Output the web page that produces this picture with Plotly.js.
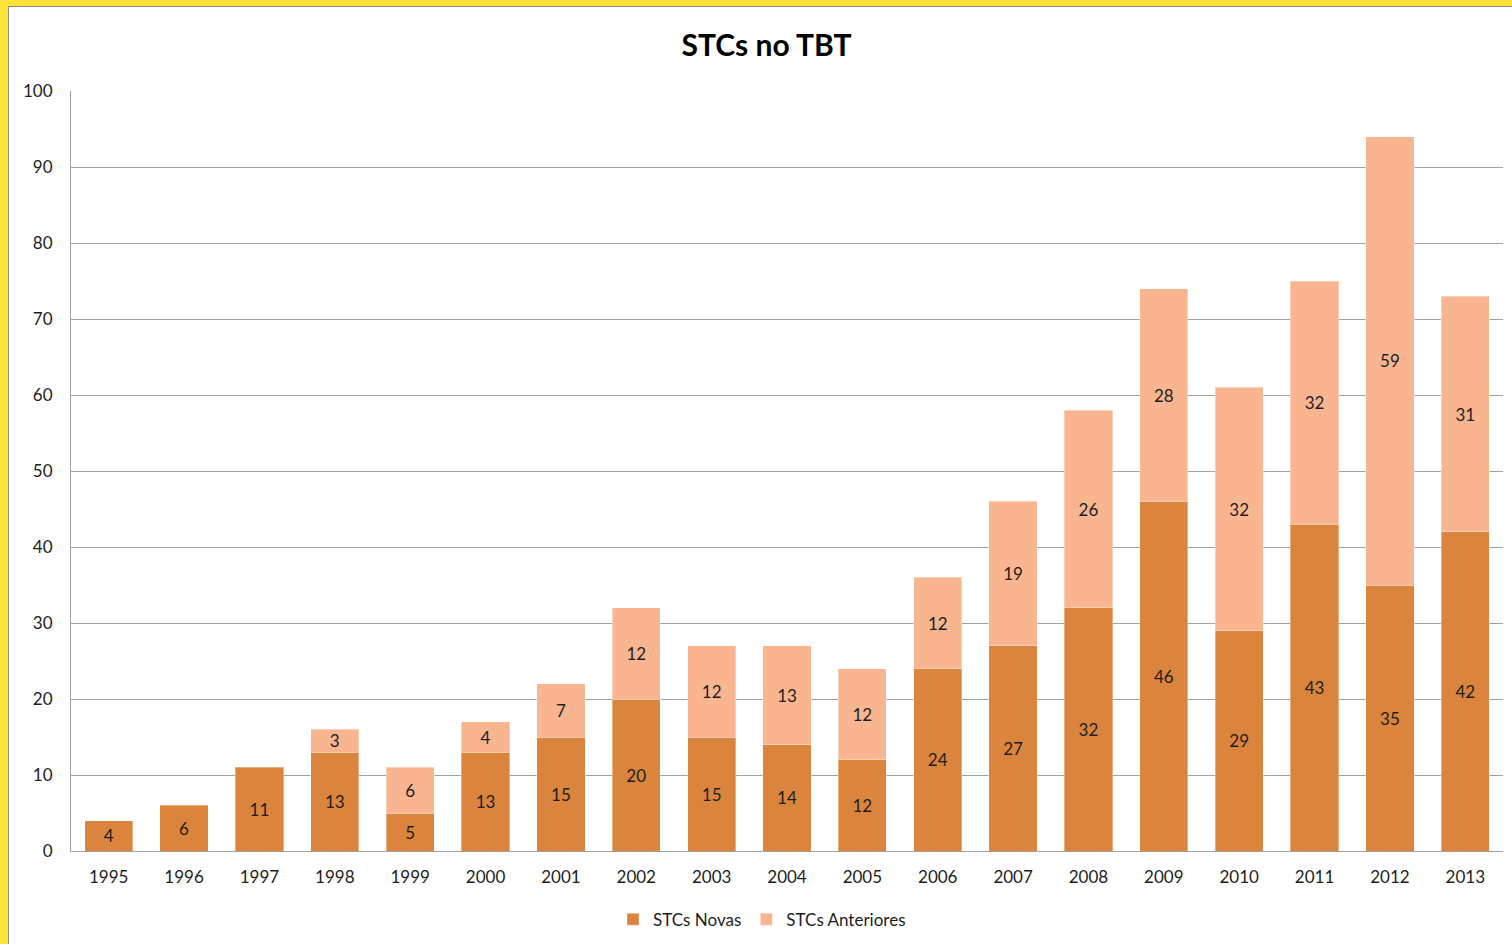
<!DOCTYPE html>
<html>
<head>
<meta charset="utf-8">
<script src="https://cdn.plot.ly/plotly-3.0.1.min.js"></script>
<style>
  html, body { margin: 0; padding: 0; background: #FDE23A; width: 1512px; height: 944px; overflow: hidden; }
  #chart { position: absolute; left: 8px; top: 6px; width: 1503px; height: 937px;
           border-left: 1px solid #8e8e8e; border-top: 1px solid #8e8e8e; background: #fff; }
</style>
</head>
<body>
<div id="chart"></div>
<script>
const years = ['1995','1996','1997','1998','1999','2000','2001','2002','2003','2004','2005','2006','2007','2008','2009','2010','2011','2012','2013'];
const novas = [4, 6, 11, 13, 5, 13, 15, 20, 15, 14, 12, 24, 27, 32, 46, 29, 43, 35, 42];
const anteriores = [null, null, null, 3, 6, 4, 7, 12, 12, 13, 12, 12, 19, 26, 28, 32, 32, 59, 31];
const yTicks = [0, 10, 20, 30, 40, 50, 60, 70, 80, 90, 100];

const FONT = 'Lato, "Open Sans", "Liberation Sans", sans-serif';
const labelFont = { family: FONT, size: 17, color: '#1e1e1e' };

const traces = [
  {
    type: 'bar', name: 'STCs Novas', x: years, y: novas,
    marker: { color: '#DB843D', line: { color: 'rgba(255,255,255,0.35)', width: 1 } },
    texttemplate: '%{y}', textposition: 'inside', insidetextanchor: 'middle',
    textangle: 0, constraintext: 'none', textfont: labelFont, hoverinfo: 'x+y'
  },
  {
    type: 'bar', name: 'STCs Anteriores', x: years, y: anteriores,
    marker: { color: '#F9B58F', line: { color: 'rgba(255,255,255,0.35)', width: 1 } },
    texttemplate: '%{y}', textposition: 'inside', insidetextanchor: 'middle',
    textangle: 0, constraintext: 'none', textfont: labelFont, hoverinfo: 'x+y'
  }
];

const layout = {
  width: 1503, height: 937,
  margin: { l: 62, r: 9, t: 84, b: 93, autoexpand: false },
  paper_bgcolor: '#ffffff', plot_bgcolor: '#ffffff',
  barmode: 'stack', bargap: 0.36,
  font: { family: FONT, size: 17, color: '#1e1e1e' },
  title: {
    text: 'STCs no TBT', font: { family: FONT, size: 30, color: '#000', weight: 'bold' },
    xref: 'container', x: 0.504, xanchor: 'center',
    yref: 'container', y: 0.9594, yanchor: 'middle'
  },
  xaxis: {
    type: 'category', showgrid: false, showline: true, linecolor: '#a0a0a0', linewidth: 1,
    ticks: '', tickfont: { family: FONT, size: 17, color: '#1e1e1e' }, ticklabelstandoff: 11,
    automargin: false
  },
  yaxis: {
    range: [0, 100], tickvals: yTicks, ticktext: yTicks.map(String),
    showgrid: true, gridcolor: '#a0a0a0', gridwidth: 1,
    showline: true, linecolor: '#a0a0a0', linewidth: 1, zeroline: false,
    ticks: '', tickfont: { family: FONT, size: 17, color: '#1e1e1e' }, ticklabelstandoff: 14,
    automargin: false
  },
  legend: {
    orientation: 'h', traceorder: 'normal',
    xref: 'container', x: 0.501, xanchor: 'center',
    yref: 'container', y: 0.026, yanchor: 'middle',
    font: { family: FONT, size: 17, color: '#1e1e1e' }, itemwidth: 30
  },
  showlegend: true
};

Plotly.newPlot('chart', traces, layout, { staticPlot: true, displayModeBar: false });
</script>
</body>
</html>
